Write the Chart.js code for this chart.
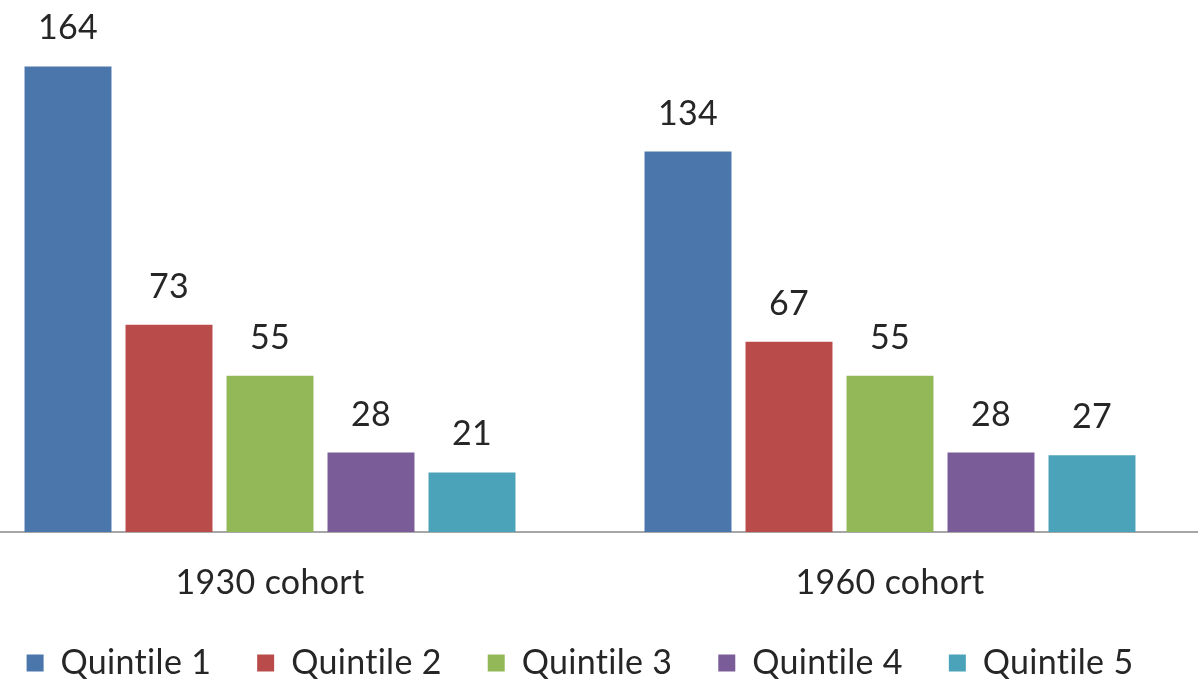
<!DOCTYPE html>
<html>
<head>
<meta charset="utf-8">
<title>Cohorts by quintile</title>
<script src="https://cdn.jsdelivr.net/npm/chart.js@4.4.1/dist/chart.umd.min.js"></script>
<style>
  html, body { margin: 0; padding: 0; background: #fff; overflow: hidden; }
  #wrap { position: relative; width: 1198px; height: 681px; overflow: hidden; }
  #grafiku { position: absolute; left: -48px; top: 0; }
</style>
</head>
<body>
<div id="wrap">
  <canvas id="grafiku" width="1248" height="681"></canvas>
</div>
<script>
const cohorts = ['1930 cohort', '1960 cohort'];
const quintiles = ['Quintile 1', 'Quintile 2', 'Quintile 3', 'Quintile 4', 'Quintile 5'];
const quintile1 = [164, 134];
const quintile2 = [73, 67];
const quintile3 = [55, 55];
const quintile4 = [28, 28];
const quintile5 = [21, 27];

const ngjyrat = ['#4a76ac', '#b94c4a', '#93b857', '#7a5c98', '#4aa3b8'];
const seriet = [quintile1, quintile2, quintile3, quintile4, quintile5];
const fonti = 'Lato, "Open Sans", sans-serif';

// pa ligatura ("ti") ne tekst; canvas-i rivendoset kur Chart.js i jep madhesine
const paLigatura = {
    id: 'paLigatura',
    beforeLayout(chart) { chart.ctx.letterSpacing = '0.3px'; },
    beforeDraw(chart) { chart.ctx.letterSpacing = '0.3px'; }
};

// vlerat mbi shtyllat
const etiketatVlerave = {
    id: 'etiketatVlerave',
    afterDatasetsDraw(chart) {
        const ctx = chart.ctx;
        ctx.save();
        ctx.font = '34px ' + fonti;
        ctx.fillStyle = '#262626';
        ctx.textAlign = 'center';
        ctx.textBaseline = 'alphabetic';
        chart.data.datasets.forEach((ds, i) => {
            chart.getDatasetMeta(i).data.forEach((bar, j) => {
                ctx.fillText(String(ds.data[j]), bar.x, bar.y - 27);
            });
        });
        ctx.restore();
    }
};

const ctx = document.getElementById('grafiku').getContext('2d');

new Chart(ctx, {
    type: 'bar',
    data: {
        labels: cohorts,
        datasets: quintiles.map((emri, i) => ({
            label: emri,
            data: seriet[i],
            backgroundColor: ngjyrat[i],
            borderWidth: 0,
            categoryPercentage: 0.8145,
            barPercentage: 0.861
        }))
    },
    options: {
        responsive: false,
        animation: false,
        layout: { padding: { left: 8, right: 0, top: 21, bottom: -9 } },
        plugins: {
            tooltip: { enabled: false },
            legend: {
                position: 'bottom',
                labels: {
                    color: '#262626',
                    font: { family: fonti, size: 34 },
                    boxWidth: 17,
                    boxHeight: 17,
                    padding: 46
                }
            }
        },
        scales: {
            x: {
                grid: { display: false },
                border: { display: true, color: '#a6a6a6', width: 2 },
                ticks: {
                    color: '#262626',
                    font: { family: fonti, size: 34 },
                    padding: 23
                },
                afterFit(scale) { scale.height = 68; }
            },
            y: {
                display: false,
                min: 0,
                max: 180
            }
        }
    },
    plugins: [paLigatura, etiketatVlerave]
});
</script>
</body>
</html>
